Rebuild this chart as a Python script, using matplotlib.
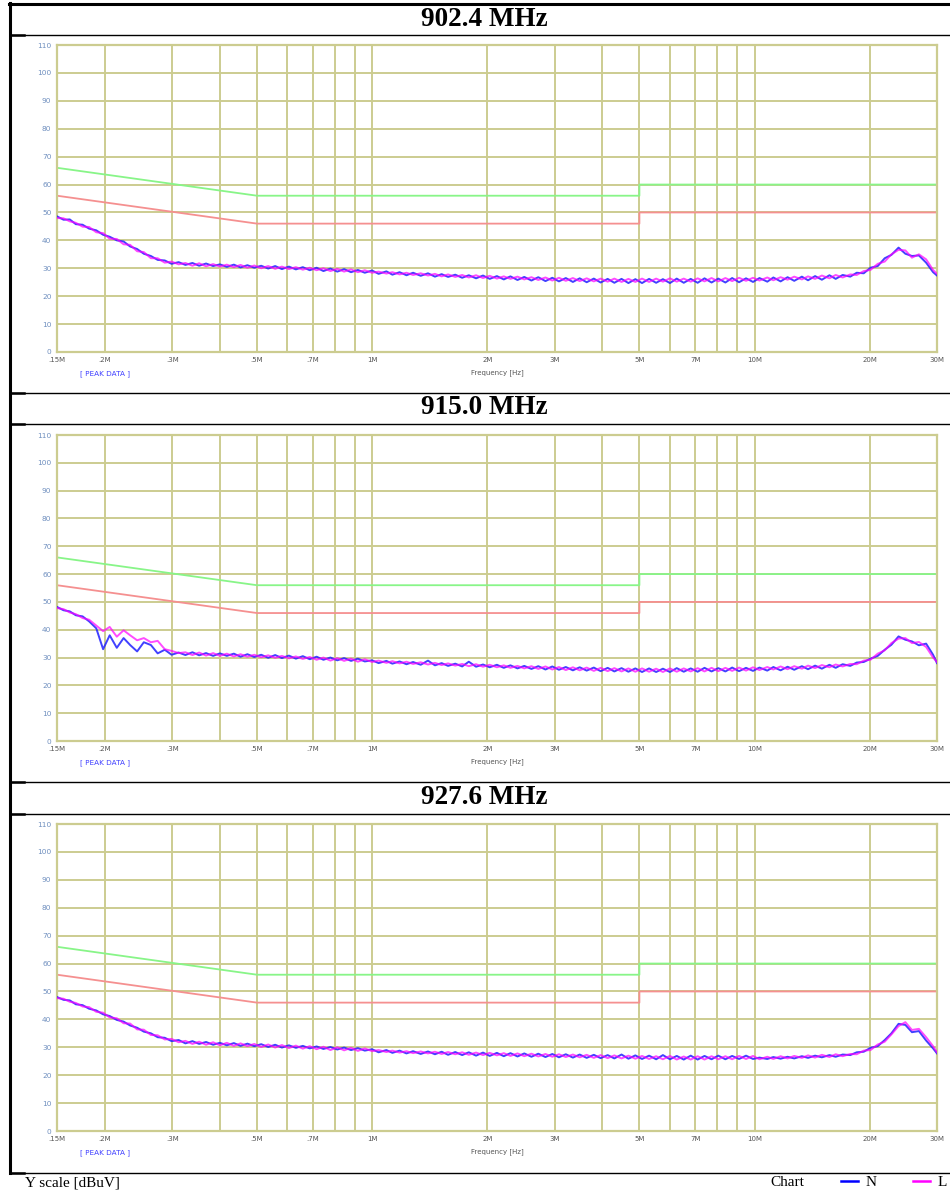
import matplotlib
matplotlib.use("Agg")
import matplotlib.pyplot as plt
from matplotlib.lines import Line2D

W, H = 950, 1193

# ---------------- data ----------------
titles = ["902.4 MHz", "915.0 MHz", "927.6 MHz"]

freq_mhz = [
    0.150, 0.156, 0.162, 0.168, 0.175, 0.182, 0.190, 0.198, 0.206, 0.215,
    0.224, 0.233, 0.243, 0.253, 0.264, 0.275, 0.287, 0.299, 0.312, 0.325,
    0.339, 0.353, 0.368, 0.384, 0.400, 0.417, 0.435, 0.453, 0.472, 0.492,
    0.513, 0.535, 0.558, 0.581, 0.606, 0.632, 0.659, 0.687, 0.716, 0.746,
    0.778, 0.811, 0.845, 0.881, 0.918, 0.957,
    1.00, 1.04, 1.09, 1.13, 1.18, 1.23, 1.28, 1.34, 1.40, 1.46,
    1.52, 1.58, 1.65, 1.72, 1.79, 1.87, 1.95, 2.03, 2.12, 2.21,
    2.30, 2.40, 2.50, 2.61, 2.72, 2.84, 2.96, 3.08, 3.21, 3.35,
    3.49, 3.64, 3.80, 3.96, 4.13, 4.30, 4.49, 4.68, 4.88, 5.08,
    5.30, 5.53, 5.76, 6.01, 6.26, 6.53, 6.81, 7.10, 7.40, 7.72,
    8.04, 8.39, 8.74, 9.11, 9.50, 9.91,
    10.3, 10.8, 11.2, 11.7, 12.2, 12.7, 13.3, 13.8, 14.4, 15.0,
    15.7, 16.3, 17.0, 17.8, 18.5, 19.3, 20.1, 21.0, 21.9, 22.8,
    23.8, 24.8, 25.8, 26.9, 28.1, 29.3, 30.0,
]

n_9024 = [
    48.6, 47.4, 47.5, 45.8, 45.6, 44.2, 43.6, 42.0, 41.3, 40.0,
    39.6, 37.8, 36.9, 35.2, 34.4, 33.0, 32.8, 31.6, 32.2, 31.2,
    31.9, 30.9, 31.7, 30.8, 31.4, 30.5, 31.3, 30.3, 31.1, 30.2,
    30.9, 29.9, 30.8, 29.7, 30.6, 29.6, 30.4, 29.3, 30.2, 29.0,
    29.9, 28.8, 29.7, 28.6, 29.4, 28.4,
    29.2, 28.0, 28.9, 27.7, 28.6, 27.5, 28.4, 27.3, 28.2, 27.0,
    27.9, 26.9, 27.7, 26.6, 27.5, 26.4, 27.4, 26.2, 27.2, 26.0,
    27.1, 25.8, 26.9, 25.6, 26.8, 25.4, 26.6, 25.3, 26.5, 25.1,
    26.4, 25.0, 26.3, 24.9, 26.2, 24.8, 26.2, 24.7, 26.1, 24.7,
    26.2, 24.8, 26.1, 24.7, 26.3, 24.8, 26.2, 24.8, 26.4, 24.9,
    26.3, 24.9, 26.5, 25.0, 26.4, 25.1,
    26.5, 25.2, 26.7, 25.3, 26.8, 25.5, 27.0, 25.7, 27.2, 25.9,
    27.5, 26.2, 27.6, 27.0, 28.4, 28.2, 30.2, 30.8, 33.6, 34.8,
    37.4, 35.2, 34.4, 34.6, 32.0, 28.6, 27.4,
]
l_9024 = [
    48.0, 47.9, 46.8, 46.3, 44.9, 44.8, 42.9, 42.6, 40.6, 40.5,
    38.6, 38.4, 36.1, 35.8, 33.6, 33.6, 32.0, 32.4, 31.4, 31.9,
    30.9, 31.8, 30.7, 31.5, 30.6, 31.3, 30.4, 31.2, 30.2, 31.0,
    30.0, 30.8, 29.8, 30.6, 29.7, 30.4, 29.5, 30.2, 29.3, 30.0,
    29.0, 29.8, 28.8, 29.6, 28.6, 29.3,
    28.4, 28.8, 28.1, 28.6, 27.8, 28.4, 27.6, 28.2, 27.4, 28.0,
    27.1, 27.8, 26.9, 27.6, 26.7, 27.5, 26.5, 27.3, 26.3, 27.1,
    26.2, 27.0, 26.0, 26.8, 25.8, 26.7, 25.6, 26.6, 25.5, 26.5,
    25.4, 26.4, 25.3, 26.3, 25.2, 26.3, 25.1, 26.2, 25.1, 26.3,
    25.1, 26.3, 25.2, 26.4, 25.2, 26.3, 25.2, 26.4, 25.3, 26.5,
    25.3, 26.5, 25.4, 26.6, 25.5, 26.6,
    25.6, 26.7, 25.7, 26.8, 25.9, 27.0, 26.0, 27.1, 26.2, 27.4,
    26.4, 27.6, 26.7, 27.8, 27.6, 29.0, 29.4, 31.6, 32.4, 35.0,
    36.6, 36.4, 33.8, 35.0, 33.2, 29.4, 28.0,
]

n_9150 = [
    48.2, 47.0, 46.6, 45.2, 44.8, 43.0, 40.5, 33.0, 38.0, 33.5,
    37.0, 34.5, 32.2, 35.5, 34.5, 31.5, 32.8, 31.0, 31.8, 30.9,
    31.9, 30.8, 31.6, 30.6, 31.5, 30.6, 31.4, 30.3, 31.2, 30.2,
    31.0, 29.9, 30.9, 29.8, 30.7, 29.6, 30.5, 29.4, 30.3, 29.2,
    30.0, 29.0, 29.8, 28.8, 29.6, 28.6,
    29.0, 28.0, 28.8, 27.8, 28.6, 27.6, 28.4, 27.4, 28.9, 27.2,
    28.0, 27.0, 27.8, 26.8, 28.5, 26.7, 27.5, 26.5, 27.4, 26.3,
    27.2, 26.1, 27.0, 25.9, 26.9, 25.7, 26.8, 25.6, 26.6, 25.4,
    26.5, 25.3, 26.4, 25.1, 26.3, 25.0, 26.2, 24.9, 26.1, 24.8,
    26.1, 24.8, 26.0, 24.8, 26.2, 24.9, 26.1, 24.9, 26.3, 25.0,
    26.2, 25.0, 26.4, 25.1, 26.3, 25.2,
    26.4, 25.3, 26.6, 25.4, 26.7, 25.6, 26.9, 25.8, 27.1, 26.0,
    27.4, 26.3, 27.6, 27.0, 28.2, 28.4, 29.6, 30.6, 32.8, 34.6,
    37.6, 36.4, 35.8, 34.4, 35.0, 31.0, 28.0,
]
l_9150 = [
    47.8, 47.4, 46.2, 45.6, 44.2, 43.6, 41.5, 39.5, 41.0, 37.5,
    39.8, 38.0, 36.2, 37.0, 35.5, 36.0, 33.0, 32.4, 31.6, 31.9,
    30.9, 31.8, 30.7, 31.6, 30.6, 31.4, 30.4, 31.2, 30.3, 31.0,
    30.1, 30.8, 29.9, 30.6, 29.7, 30.4, 29.5, 30.2, 29.2, 30.0,
    28.9, 29.8, 28.8, 29.6, 28.5, 29.4,
    28.4, 28.9, 28.1, 28.7, 27.9, 28.5, 27.7, 28.3, 27.5, 28.1,
    27.3, 27.9, 27.1, 27.7, 26.9, 27.6, 26.7, 27.4, 26.5, 27.2,
    26.3, 27.0, 26.1, 26.9, 25.9, 26.8, 25.7, 26.6, 25.5, 26.5,
    25.4, 26.4, 25.2, 26.3, 25.1, 26.2, 25.0, 26.1, 24.9, 26.1,
    24.9, 26.0, 24.8, 26.1, 24.9, 26.1, 25.0, 26.2, 25.0, 26.3,
    25.1, 26.3, 25.2, 26.4, 25.3, 26.5,
    25.5, 26.6, 25.7, 26.8, 25.8, 26.9, 26.0, 27.1, 26.2, 27.3,
    26.5, 27.5, 26.8, 27.7, 27.6, 28.9, 29.2, 31.4, 32.6, 35.2,
    36.8, 37.0, 35.2, 35.6, 33.8, 30.0, 28.4,
]

n_9276 = [
    48.0, 47.0, 46.8, 45.4, 45.1, 43.8, 43.2, 41.8, 41.2, 39.8,
    39.2, 37.8, 37.0, 35.6, 35.0, 33.6, 33.4, 32.2, 32.6, 31.4,
    32.2, 31.2, 31.9, 30.9, 31.6, 30.7, 31.5, 30.5, 31.3, 30.4,
    31.1, 30.1, 30.9, 29.9, 30.7, 29.8, 30.5, 29.6, 30.3, 29.4,
    30.1, 29.2, 29.9, 29.0, 29.7, 28.8,
    29.3, 28.2, 29.0, 28.0, 28.8, 27.8, 28.6, 27.6, 28.5, 27.5,
    28.4, 27.3, 28.3, 27.2, 28.2, 27.0, 28.1, 26.9, 28.0, 26.8,
    27.9, 26.7, 27.8, 26.6, 27.7, 26.5, 27.6, 26.4, 27.5, 26.3,
    27.4, 26.2, 27.3, 26.1, 27.2, 26.0, 27.4, 25.9, 27.1, 25.8,
    27.0, 25.7, 27.2, 25.7, 26.9, 25.6, 27.0, 25.6, 26.9, 25.7,
    27.0, 25.7, 26.9, 25.8, 27.0, 25.8,
    26.3, 25.8, 26.5, 25.9, 26.6, 26.0, 26.8, 26.2, 27.0, 26.4,
    27.2, 26.6, 27.4, 27.2, 28.2, 28.4, 29.8, 30.4, 32.6, 35.0,
    38.4, 38.0, 35.4, 35.8, 32.4, 29.6, 27.8,
]
l_9276 = [
    47.6, 47.4, 46.3, 45.9, 44.6, 44.4, 42.7, 42.4, 40.7, 40.4,
    38.6, 38.5, 36.4, 36.3, 34.4, 34.3, 32.8, 33.0, 31.8, 32.3,
    31.2, 32.0, 30.9, 31.8, 30.7, 31.6, 30.5, 31.4, 30.4, 31.2,
    30.1, 31.0, 29.9, 30.8, 29.7, 30.6, 29.5, 30.4, 29.3, 30.2,
    29.0, 30.0, 28.9, 29.8, 28.7, 29.6,
    28.6, 29.0, 28.3, 28.8, 28.1, 28.6, 27.9, 28.5, 27.8, 28.4,
    27.6, 28.3, 27.5, 28.2, 27.3, 28.1, 27.2, 28.0, 27.1, 27.9,
    26.9, 27.8, 26.8, 27.7, 26.7, 27.6, 26.6, 27.5, 26.5, 27.4,
    26.4, 27.3, 26.2, 27.2, 26.1, 27.1, 26.0, 27.0, 25.9, 26.9,
    25.8, 26.8, 25.7, 26.9, 25.6, 26.7, 25.6, 26.8, 25.6, 26.8,
    25.7, 26.8, 25.7, 26.9, 25.8, 26.9,
    25.7, 26.6, 25.8, 26.8, 26.0, 26.9, 26.2, 27.1, 26.3, 27.3,
    26.5, 27.5, 26.8, 27.6, 27.5, 28.8, 29.0, 31.0, 32.0, 34.6,
    37.6, 39.0, 36.2, 36.6, 33.6, 30.4, 28.2,
]

n_series = [n_9024, n_9150, n_9276]
l_series = [l_9024, l_9150, l_9276]

# limit lines
qp_freq = [0.15, 0.5, 5.0, 5.0, 30.0]
qp_level = [66, 56, 56, 60, 60]
av_freq = [0.15, 0.5, 5.0, 5.0, 30.0]
av_level = [56, 46, 46, 50, 50]

grid_freqs = [0.15, 0.2, 0.3, 0.4, 0.5, 0.6, 0.7, 0.8, 0.9, 1, 2, 3, 4, 5, 6,
              7, 8, 9, 10, 20, 30]
grid_labels = [".15M", ".2M", ".3M", "", ".5M", "", ".7M", "", "", "1M", "2M",
               "3M", "", "5M", "", "7M", "", "", "10M", "20M", "30M"]
y_ticks = [0, 10, 20, 30, 40, 50, 60, 70, 80, 90, 100, 110]

# ---------------- layout ----------------
fig = plt.figure(figsize=(W / 100, H / 100), dpi=100)
fig.patch.set_facecolor("white")

GRID_C = "#cccc90"
SERIF = ["Liberation Serif", "DejaVu Serif"]

boxes = [(57, 45, 937, 352), (57, 435, 937, 741), (57, 824, 937, 1131)]
title_y = [19, 408, 797]


def fx(x):
    return x / W


def fy(y):
    return 1 - y / H


def hline(y, x0, x1, lw=1.0):
    fig.add_artist(Line2D([fx(x0), fx(x1)], [fy(y), fy(y)], color="black",
                          lw=lw, transform=fig.transFigure))


def vline(x, y0, y1, lw=1.0):
    fig.add_artist(Line2D([fx(x), fx(x)], [fy(y0), fy(y1)], color="black",
                          lw=lw, transform=fig.transFigure))


hline(3.5, 9, 950, lw=2.2)
for y in [35, 392.5, 424.5, 781.5, 813.5, 1172.5]:
    hline(y, 10, 950, lw=1.0)
    hline(y, 10, 24, lw=1.8)
vline(10, 3, 1173, lw=2.2)

for i, (l, t, r, b) in enumerate(boxes):
    ax = fig.add_axes([fx(l), fy(b), (r - l) / W, (b - t) / H])
    ax.set_xscale("log")
    ax.set_xlim(0.15, 30)
    ax.set_ylim(0, 110)
    ax.set_facecolor("white")

    for g in grid_freqs:
        ax.axvline(g, color=GRID_C, lw=1.4, zorder=1)
    for yv in y_ticks:
        ax.axhline(yv, color=GRID_C, lw=1.4, zorder=1)
    for s in ax.spines.values():
        s.set_color(GRID_C)
        s.set_linewidth(1.6)

    ax.plot(qp_freq, qp_level, color="#88f588", lw=1.3, zorder=2)
    ax.plot(av_freq, av_level, color="#f59090", lw=1.3, zorder=2)

    n = min(len(freq_mhz), len(n_series[i]), len(l_series[i]))
    ax.plot(freq_mhz[:n], n_series[i][:n], color="#2020ff", lw=1.4,
            alpha=0.85, zorder=3)
    ax.plot(freq_mhz[:n], l_series[i][:n], color="#ff00ff", lw=1.4,
            alpha=0.7, zorder=4)

    ax.xaxis.set_minor_locator(matplotlib.ticker.NullLocator())
    ax.set_xticks(grid_freqs)
    ax.set_xticklabels(grid_labels)
    ax.set_yticks(y_ticks)
    ax.set_yticklabels([str(v) for v in y_ticks])
    ax.tick_params(axis="both", length=0)
    ax.tick_params(axis="x", labelsize=5, pad=3.5, colors="#555555")
    ax.tick_params(axis="y", labelsize=5.3, pad=4, colors="#6f8fbf")

    fig.text(fx(105), fy(b + 22), "[ PEAK DATA ]", color="#3f3fff",
             fontsize=5.2, ha="center", va="center")
    fig.text(fx(497), fy(b + 21), "Frequency [Hz]", color="#555555",
             fontsize=5, ha="center", va="center")

    fig.text(fx(484), fy(title_y[i]), titles[i], family=SERIF,
             fontweight="bold", fontsize=19.5, ha="center", va="center")

fig.text(fx(25), fy(1183), "Y scale [dBuV]", family=SERIF, fontsize=11,
         ha="left", va="center")
fig.text(fx(770), fy(1183), "Chart", family=SERIF, fontsize=11,
         ha="left", va="center")
fig.add_artist(Line2D([fx(841), fx(858)], [fy(1181), fy(1181)],
                      color="#0000ff", lw=1.8, transform=fig.transFigure))
fig.text(fx(866), fy(1183), "N", family=SERIF, fontsize=11, ha="left",
         va="center")
fig.add_artist(Line2D([fx(913), fx(930)], [fy(1181), fy(1181)],
                      color="#ff00ff", lw=1.8, transform=fig.transFigure))
fig.text(fx(938), fy(1183), "L", family=SERIF, fontsize=11, ha="left",
         va="center")

fig.savefig("out.png", dpi=100, facecolor="white")
